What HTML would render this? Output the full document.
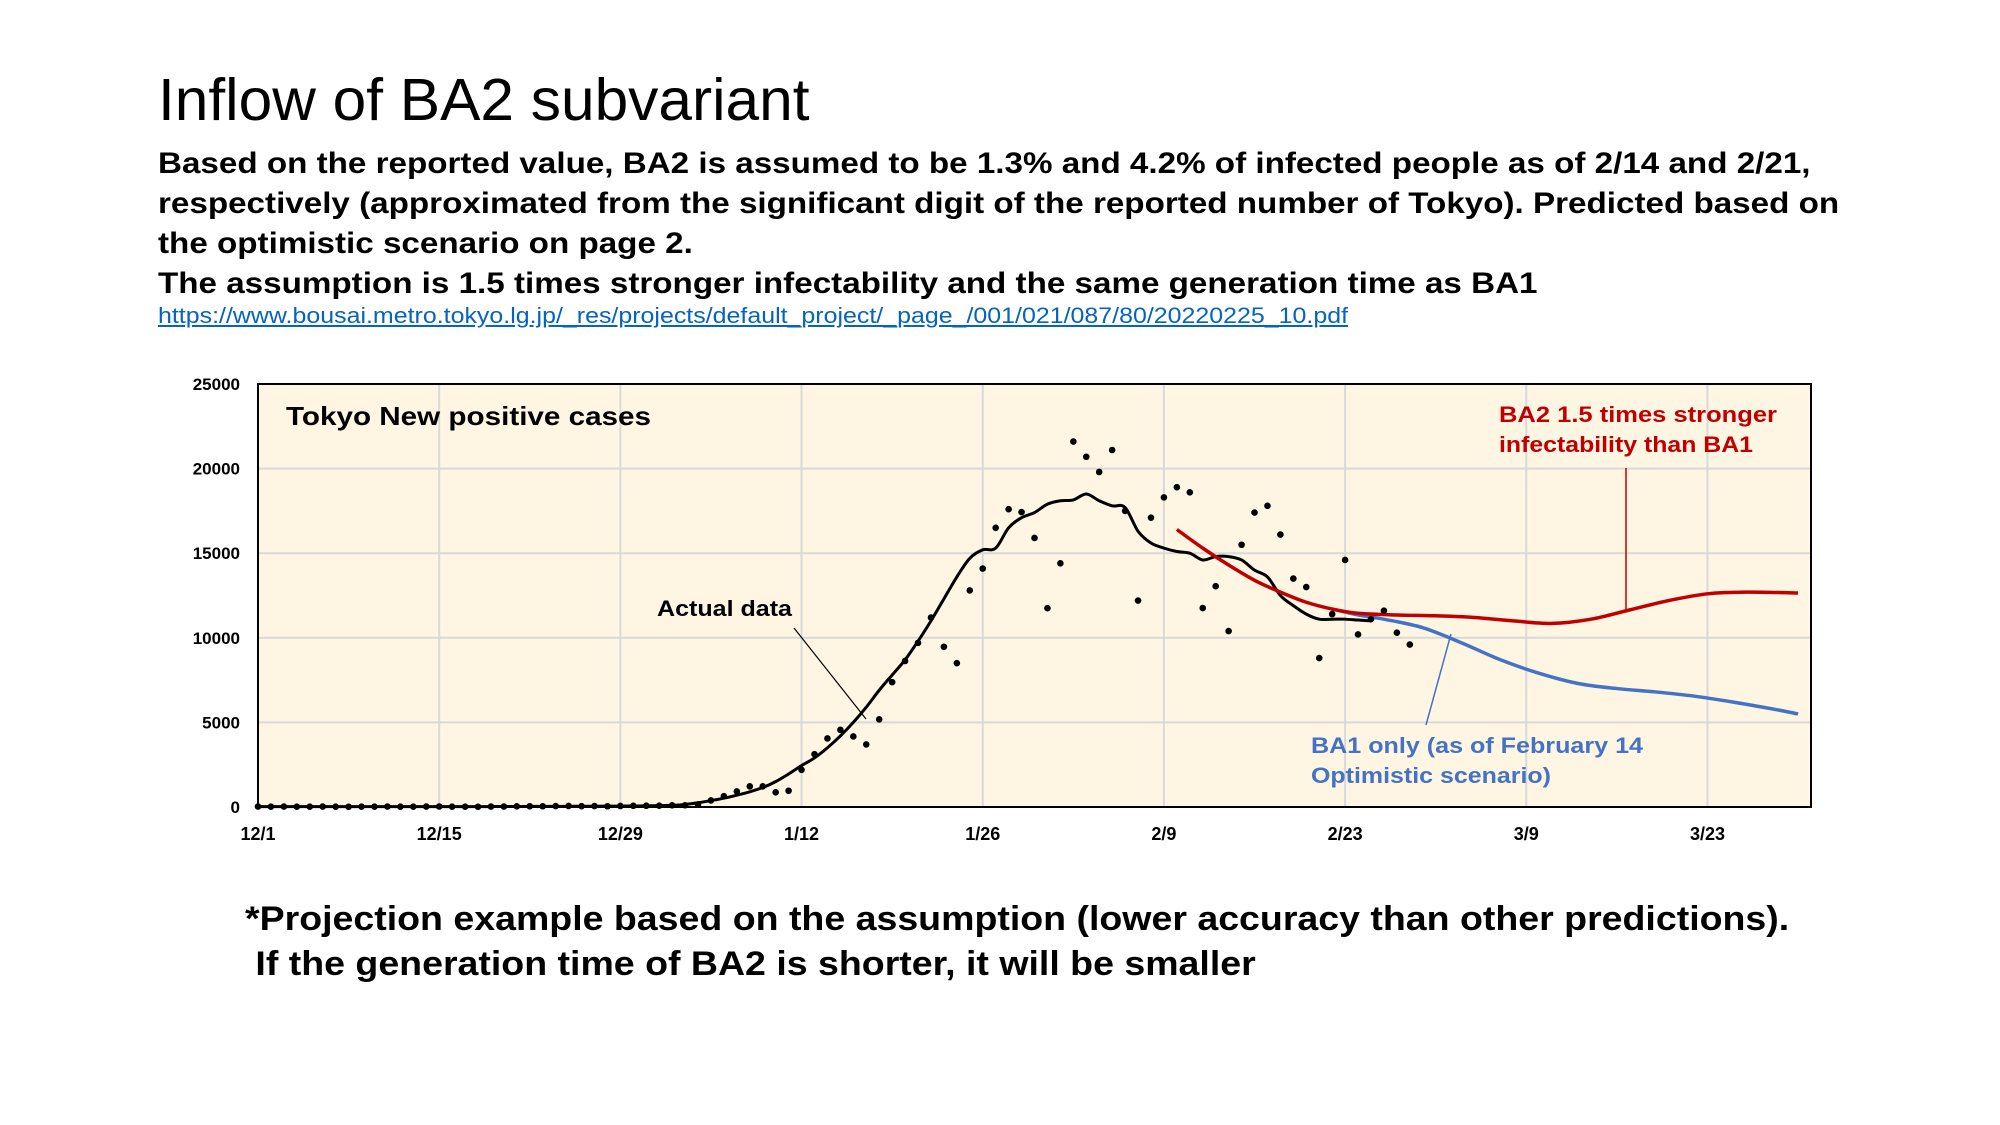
<!DOCTYPE html>
<html><head><meta charset="utf-8"><style>
html,body{margin:0;padding:0;background:#fff;}
body{width:2000px;height:1125px;position:relative;overflow:hidden;font-family:"Liberation Sans",Arial,sans-serif;}
.t{position:absolute;white-space:nowrap;margin:0;transform-origin:0 0;}
</style></head><body>
<div class="t" style="left:158px;top:66px;font-size:59px;transform:scaleX(1.024);">Inflow of BA2 subvariant</div>
<div class="t" style="left:158px;top:144px;font-size:29.5px;font-weight:bold;line-height:40px;transform:scaleX(1.125);">Based on the reported value, BA2 is assumed to be 1.3% and 4.2% of infected people as of 2/14 and 2/21,<br>respectively (approximated from the significant digit of the reported number of Tokyo). Predicted based on<br>the optimistic scenario on page 2.<br>The assumption is 1.5 times stronger infectability and the same generation time as BA1</div>
<a class="t" style="left:158px;top:303px;font-size:22px;color:#0563c1;text-decoration:underline;transform:scaleX(1.134);">https://www.bousai.metro.tokyo.lg.jp/_res/projects/default_project/_page_/001/021/087/80/20220225_10.pdf</a>
<svg id="chart" width="2000" height="1125" style="position:absolute;left:0;top:0" xmlns="http://www.w3.org/2000/svg"></svg>
<div class="t" style="left:245px;top:897px;font-size:34px;font-weight:bold;line-height:45px;transform:scaleX(1.103);">*Projection example based on the assumption (lower accuracy than other predictions).<br>&nbsp;If the generation time of BA2 is shorter, it will be smaller</div>
<script>
const xTickLabels=["12/1","12/15","12/29","1/12","1/26","2/9","2/23","3/9","3/23"];
const yTickValues=[0,5000,10000,15000,20000,25000];
const actualDaily=[30,20,25,20,20,25,20,15,20,20,25,20,20,25,30,20,20,15,25,30,40,45,45,55,60,50,55,45,60,70,75,
80,100,103,150,390,640,920,1220,1220,870,960,2200,3120,4050,4560,4170,3700,5180,7380,8630,9700,11200,9470,8500,12800,14090,16500,17600,17430,15900,11750,14400,21600,20700,19800,21100,17500,12200,17100,18300,18900,18600,11760,13050,10400,15500,17400,17800,16100,13500,13000,8800,11400,14600,10200,11100,11600,10300,9600];
const actualSmooth=[20,20,20,20,20,20,20,20,20,20,20,20,20,20,20,20,25,25,25,30,30,35,35,40,40,45,45,50,55,60,70,
80,100,150,250,380,520,700,900,1150,1500,1950,2450,2900,3500,4200,5000,5900,6900,7800,8700,9800,11000,12300,13600,14700,15200,15300,16500,17100,17400,17900,18100,18150,18500,18100,17800,17700,16300,15600,15300,15100,15000,14600,14800,14800,14600,14000,13600,12500,11900,11400,11100,11100,11100,11050,11000];
const ba2Days=[71,73,75,77,79,81,83,85,88,91,94,97,100,103,106,109,112,115,119];
const ba2Values=[16400,15300,14300,13400,12700,12100,11700,11450,11350,11300,11200,11000,10850,11100,11650,12200,12600,12700,12650];
const ba1Days=[83,85,87,90,93,96,99,102,105,108,111,114,117,119];
const ba1Values=[11700,11350,11100,10600,9700,8700,7900,7300,7000,6800,6550,6200,5800,5500];

const svg=document.getElementById('chart');
const NS='http://www.w3.org/2000/svg';
const L=258,R=1811,T=384,B=807,DAYS=120;
const xs=d=>L+d*(R-L)/DAYS;
const ys=v=>B-v/25000*(B-T);
function mk(tag,attrs,parent){const e=document.createElementNS(NS,tag);for(const k in attrs)e.setAttribute(k,attrs[k]);(parent||svg).appendChild(e);return e;}
function smoothPath(pts){let d='M'+pts[0][0]+','+pts[0][1];for(let i=0;i<pts.length-1;i++){const p0=pts[i-1]||pts[i],p1=pts[i],p2=pts[i+1],p3=pts[i+2]||p2;
d+=' C'+(p1[0]+(p2[0]-p0[0])/6)+','+(p1[1]+(p2[1]-p0[1])/6)+' '+(p2[0]-(p3[0]-p1[0])/6)+','+(p2[1]-(p3[1]-p1[1])/6)+' '+p2[0]+','+p2[1];}return d;}

const bg=mk('rect',{x:L,y:T,width:R-L,height:B-T,fill:'#fef6e3'});


yTickValues.forEach(v=>{
  if(v>0&&v<25000){const g=mk('line',{x1:L,x2:R,y1:ys(v),y2:ys(v),stroke:'#d9d9d9','stroke-width':2});
  
  }
  const t=mk('text',{x:240,y:ys(v)+6,'text-anchor':'end','font-size':17,'font-weight':'bold','font-family':'Liberation Sans, sans-serif'});
  t.textContent=v;
  
  
});
xTickLabels.forEach((s,i)=>{
  const x=xs(i*14);
  if(i>0){const g=mk('line',{x1:x,x2:x,y1:T,y2:B,stroke:'#d9d9d9','stroke-width':2});
  
  }
  const t=mk('text',{x:x,y:840,'text-anchor':'middle','font-size':18,'font-weight':'bold','font-family':'Liberation Sans, sans-serif'});
  t.textContent=s;
  
  
});
const fr=mk('rect',{x:L,y:T,width:R-L,height:B-T,fill:'none',stroke:'#000','stroke-width':2});



const blk=mk('path',{d:smoothPath(actualSmooth.map((v,i)=>[xs(i),ys(v)])),fill:'none',stroke:'#000','stroke-width':3});


const rl=mk('path',{d:smoothPath(ba1Days.map((d,i)=>[xs(d),ys(ba1Values[i])])),fill:'none',stroke:'#4472c4','stroke-width':3.5});


const bl=mk('path',{d:smoothPath(ba2Days.map((d,i)=>[xs(d),ys(ba2Values[i])])),fill:'none',stroke:'#c00000','stroke-width':3.5});


actualDaily.forEach((v,i)=>{
  const c=mk('circle',{cx:xs(i),cy:ys(v),r:3.3,fill:'#000'});
  
  
});
function txt(x,y,s,size,color,name,len){const t=mk('text',{x:x,y:y,'font-size':size,'font-weight':'bold',fill:color,'font-family':'Liberation Sans, sans-serif',textLength:len,lengthAdjust:'spacingAndGlyphs','xml:space':'preserve'});t.textContent=s;

return t;}
txt(286,425,'Tokyo  New positive cases',26,'#000','chart-title',365);
txt(657,616,'Actual data',22,'#000','actual-data-label',135);
txt(1499,422,'BA2  1.5 times stronger',22.5,'#c00000','ba2-label-line1',278);
txt(1499,452,'infectability than BA1',22.5,'#c00000','ba2-label-line2',254);
txt(1311,753,'BA1 only (as of February 14',22.5,'#4472c4','ba1-label-line1',332);
txt(1311,783,'Optimistic scenario)',22.5,'#4472c4','ba1-label-line2',240);
const l1=mk('line',{x1:794,y1:628,x2:866,y2:719,stroke:'#000','stroke-width':1.2});


const l2=mk('line',{x1:1626,y1:468,x2:1626,y2:610,stroke:'#c00000','stroke-width':1.5});


const l3=mk('line',{x1:1426,y1:725,x2:1451,y2:634,stroke:'#4472c4','stroke-width':1.5});


</script>
</body></html>
